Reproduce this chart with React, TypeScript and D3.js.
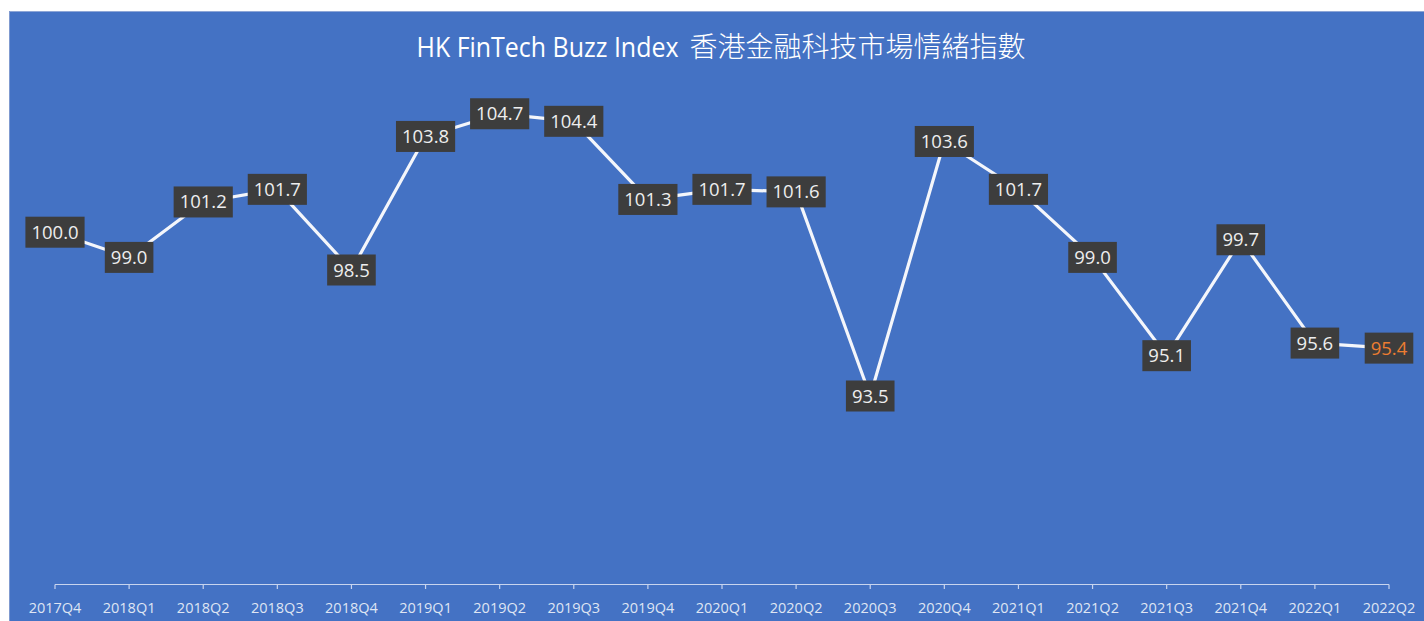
import React from "react";
import * as d3 from "d3";

const categories = [
  "2017Q4", "2018Q1", "2018Q2", "2018Q3", "2018Q4", "2019Q1", "2019Q2", "2019Q3", "2019Q4",
  "2020Q1", "2020Q2", "2020Q3", "2020Q4", "2021Q1", "2021Q2", "2021Q3", "2021Q4", "2022Q1", "2022Q2",
];
const values = [
  100.0, 99.0, 101.2, 101.7, 98.5, 103.8, 104.7, 104.4, 101.3,
  101.7, 101.6, 93.5, 103.6, 101.7, 99.0, 95.1, 99.7, 95.6, 95.4,
];
const titleLatin = "HK FinTech Buzz Index";
const titleCJK = "香港金融科技市場情緒指數";

const W = 1424;
const H = 621;
const LABEL_FONT = "18.5px 'Open Sans'";

function measure(text: string, font: string): number {
  if (typeof document === "undefined") return text.length * 10;
  const c = document.createElement("canvas");
  const ctx = c.getContext("2d");
  if (!ctx) return text.length * 10;
  ctx.font = font;
  return ctx.measureText(text).width;
}

export default function App() {
  const x = d3.scalePoint<string>().domain(categories).range([55, 1389]);
  const y = d3.scaleLinear().domain([86, 106]).range([585, 81]);
  const line = d3
    .line<number>()
    .x((_, i) => x(categories[i]) as number)
    .y((d) => y(d));
  const axisY = 584.5;

  return (
    <svg
      width={W}
      height={H}
      style={{ position: "absolute", left: 0, top: 0, display: "block" }}
    >
      <rect x={9} y={11} width={W - 9} height={H - 11} fill="#4472C4" />
      <line x1={9} y1={11.5} x2={W} y2={11.5} stroke="#8ea6d6" strokeWidth={1} />
      <line x1={9.5} y1={11} x2={9.5} y2={H} stroke="#7f9ad0" strokeWidth={1} />

      <text
        x={721}
        y={57}
        textAnchor="middle"
        fill="#ffffff"
        style={{ fontSize: 28 }}
      >
        <tspan
          style={{ fontFamily: "'Open Sans', sans-serif" }}
          textLength={262}
          lengthAdjust="spacingAndGlyphs"
        >
          {titleLatin}
        </tspan>
        <tspan dx={11} style={{ fontFamily: "'Noto Sans CJK TC', sans-serif", fontWeight: 300 }}>
          {titleCJK}
        </tspan>
      </text>

      {/* axis */}
      <line
        x1={x(categories[0])}
        x2={x(categories[categories.length - 1])}
        y1={axisY}
        y2={axisY}
        stroke="#c8d4ee"
        strokeWidth={1.2}
      />
      {categories.map((c) => (
        <g key={c}>
          <line
            x1={x(c)}
            x2={x(c)}
            y1={axisY}
            y2={axisY + 4.5}
            stroke="#c8d4ee"
            strokeWidth={1.2}
          />
          <text
            x={x(c)}
            y={613}
            textAnchor="middle"
            fill="#dfe5f3"
            style={{ fontFamily: "'Open Sans', sans-serif", fontSize: 14.5 }}
          >
            {c}
          </text>
        </g>
      ))}

      <path
        d={line(values) || ""}
        fill="none"
        stroke="#f4f6fb"
        strokeWidth={3.2}
        strokeLinejoin="round"
      />

      {values.map((v, i) => {
        const label = v.toFixed(1);
        const tw = measure(label, LABEL_FONT);
        const bw = tw + 12;
        const bh = 31;
        const cx = x(categories[i]) as number;
        const cy = y(v);
        const last = i === values.length - 1;
        return (
          <g key={i}>
            <rect x={cx - bw / 2} y={cy - bh / 2} width={bw} height={bh} fill="#3d3d3d" />
            <text
              x={cx}
              y={cy + 6.5}
              textAnchor="middle"
              fill={last ? "#ED7D31" : "#eeeeee"}
              style={{ fontFamily: "'Open Sans', sans-serif", fontSize: 18.5 }}
            >
              {label}
            </text>
          </g>
        );
      })}
    </svg>
  );
}
